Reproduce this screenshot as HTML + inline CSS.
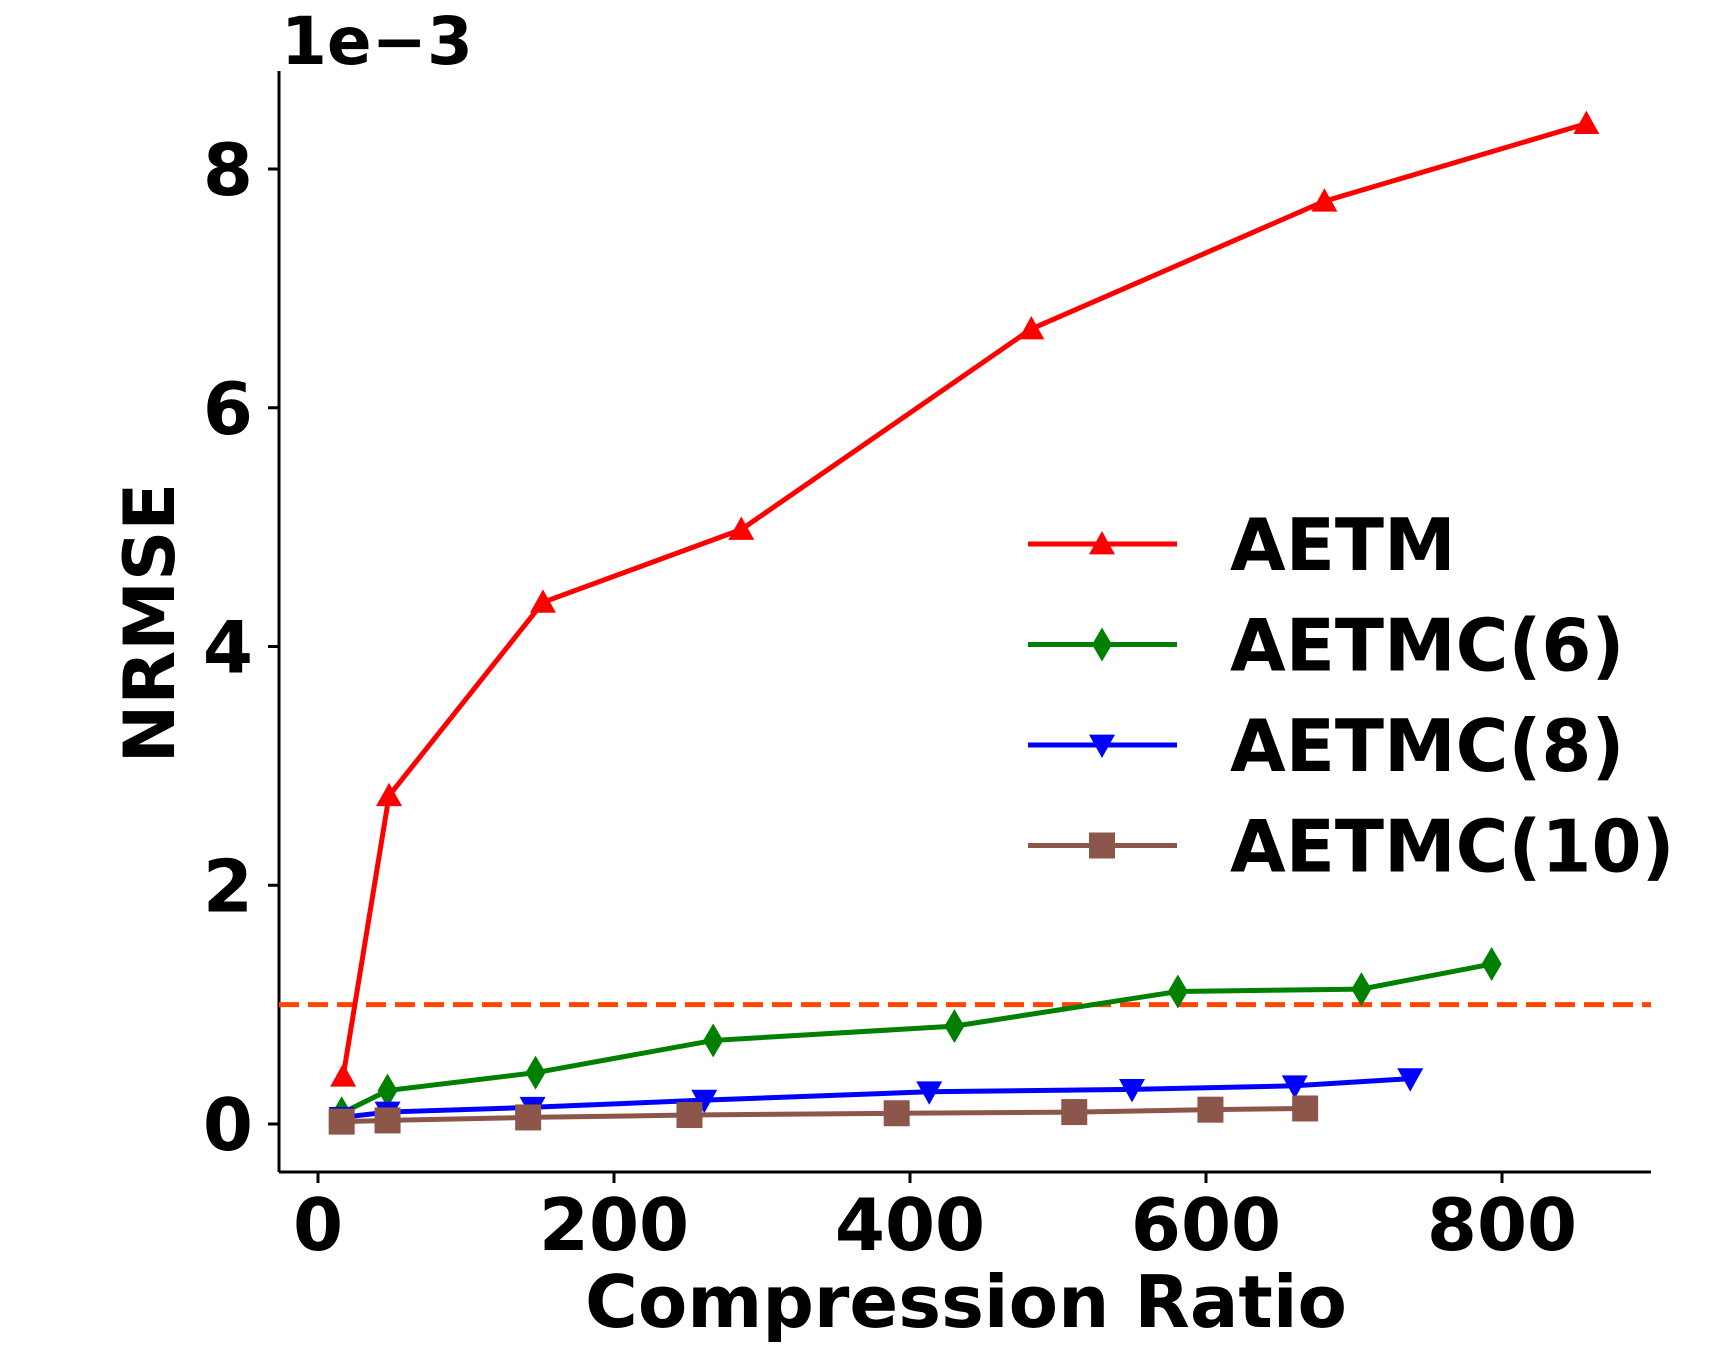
<!DOCTYPE html>
<html><head><meta charset="utf-8"><style>
html,body{margin:0;padding:0;background:#fff;}
svg text{font-family:"DejaVu Sans","Liberation Sans",sans-serif;font-weight:bold;fill:#000;}
</style></head><body>
<svg id="chart" width="1721" height="1349" viewBox="0 0 1721 1349" xmlns="http://www.w3.org/2000/svg">
<g id="plot"></g>
</svg>
<script>
const xTicks=[0,200,400,600,800];
const yTicks=[0,2,4,6,8];
const aetmX=[17,48,152,286,482,680,857];
const aetmY=[0.40,2.75,4.37,4.98,6.66,7.73,8.38];
const c6X=[16,47,147,267,430,581,705,793];
const c6Y=[0.09,0.28,0.43,0.70,0.82,1.11,1.13,1.34];
const c8X=[16,47,145,261,413,550,660,738];
const c8Y=[0.055,0.10,0.14,0.20,0.27,0.29,0.32,0.38];
const c10X=[16,47,142,251,391,511,603,667];
const c10Y=[0.02,0.03,0.055,0.075,0.09,0.10,0.12,0.13];
const threshold=1.0;

const NS='http://www.w3.org/2000/svg';
const g=document.getElementById('plot');
const X0=318,XS=(1502-318)/800,Y0=1124,YS=(1124-169)/8;
const sx=v=>X0+v*XS, sy=v=>Y0-v*YS;
function mk(tag,attrs,parent){const e=document.createElementNS(NS,tag);for(const k in attrs)e.setAttribute(k,attrs[k]);(parent||g).appendChild(e);return e;}

let e=mk('line',{x1:279,y1:1172,x2:1651,y2:1172,stroke:'#000','stroke-width':3});


e=mk('line',{x1:279,y1:71,x2:279,y2:1172,stroke:'#000','stroke-width':3});



xTicks.forEach(t=>{
  let l=mk('line',{x1:sx(t),y1:1172,x2:sx(t),y2:1183,stroke:'#000','stroke-width':3});
  
  
  let tx=mk('text',{x:sx(t),y:1250,'text-anchor':'middle','font-size':72});
  tx.textContent=t;
  
  
});
yTicks.forEach(t=>{
  let l=mk('line',{x1:268,y1:sy(t),x2:279,y2:sy(t),stroke:'#000','stroke-width':3});
  
  
  let tx=mk('text',{x:253,y:sy(t)+26,'text-anchor':'end','font-size':72});
  tx.textContent=t;
  
  
});
e=mk('text',{x:281,y:64,'font-size':66});e.textContent='1e\u22123';


e=mk('text',{x:966,y:1327,'text-anchor':'middle','font-size':72});e.textContent='Compression Ratio';


e=mk('text',{x:0,y:0,'text-anchor':'middle','font-size':70,transform:'translate(174,623) rotate(-90)'});e.textContent='NRMSE';



e=mk('line',{x1:279,y1:sy(threshold),x2:1651,y2:sy(threshold),stroke:'#ff4500','stroke-width':5,'stroke-dasharray':'20,9'});



function marker(type,x,y,color,parent){
  const s=13;let m;
  if(type==='tri-up')m=mk('polygon',{points:`${x},${y-s} ${x-s},${y+s*0.8} ${x+s},${y+s*0.8}`,fill:color},parent);
  else if(type==='tri-down')m=mk('polygon',{points:`${x},${y+s} ${x-s},${y-s*0.8} ${x+s},${y-s*0.8}`,fill:color},parent);
  else if(type==='diamond')m=mk('polygon',{points:`${x},${y-17} ${x-10},${y} ${x},${y+17} ${x+10},${y}`,fill:color},parent);
  else m=mk('rect',{x:x-13,y:y-13,width:26,height:26,fill:color},parent);
  return m;
}
const series=[
 {name:'AETM',xs:aetmX,ys:aetmY,color:'#ff0000',m:'tri-up'},
 {name:'AETMC(6)',xs:c6X,ys:c6Y,color:'#008000',m:'diamond'},
 {name:'AETMC(8)',xs:c8X,ys:c8Y,color:'#0000ff',m:'tri-down'},
 {name:'AETMC(10)',xs:c10X,ys:c10Y,color:'#8c564b',m:'square'}];
series.forEach((s,i)=>{
  const sg=mk('g',{});
  
  
  const pl=mk('polyline',{points:s.xs.map((x,j)=>sx(x)+','+sy(s.ys[j])).join(' '),fill:'none',stroke:s.color,'stroke-width':5},sg);
  
  
  s.xs.forEach((x,j)=>{
    const m=marker(s.m,sx(x),sy(s.ys[j]),s.color,sg);
    
    
  });
  const ly=544+i*100.5;
  const lg=mk('g',{});
  
  
  mk('line',{x1:1028,y1:ly,x2:1177,y2:ly,stroke:s.color,'stroke-width':5},lg);
  marker(s.m,1102,ly,s.color,lg);
  const t=mk('text',{x:1230,y:ly+26,'font-size':72},lg);t.textContent=s.name;
});
</script>
</body></html>
